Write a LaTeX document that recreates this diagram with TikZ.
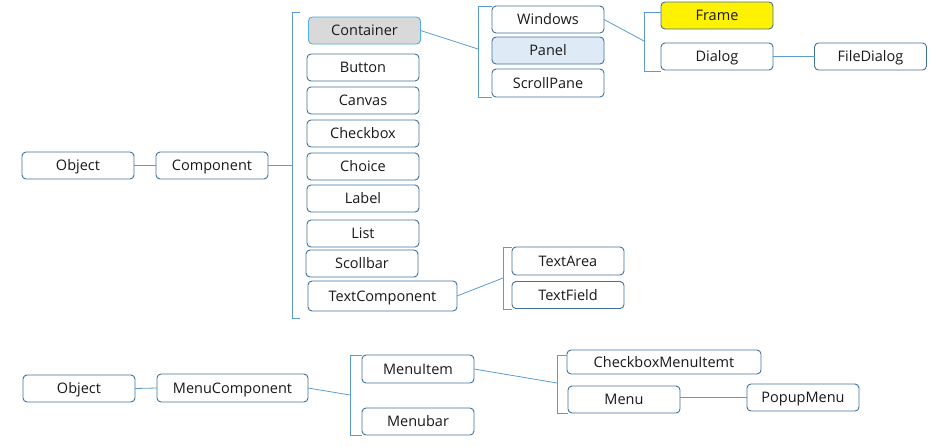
\documentclass[tikz,border=0pt]{standalone}
\usepackage{fontspec}
\setmainfont{Open Sans}
\definecolor{boxc}{HTML}{41719C}
\definecolor{linec}{HTML}{5B9BD5}
\definecolor{contc}{HTML}{4DB0E0}
\definecolor{grayf}{HTML}{D9D9D9}
\definecolor{panelf}{HTML}{DEEAF6}
\begin{document}
\begin{tikzpicture}[x=1pt,y=-1pt,
  box/.style={draw=boxc, line width=0.9pt, rounded corners=4pt, fill=white,
    inner sep=0pt, outer sep=0pt, minimum height=27pt, minimum width=112pt,
    text height=11.5pt, text depth=1.5pt,
    font=\fontsize{14.5}{16}\selectfont, text=black!90},
  conn/.style={draw=linec, line width=0.8pt}]
\useasboundingbox (0,0) rectangle (943,447);
% top tree
\node[box] (obj1) at (78,165.5) {Object};
\node[box] (comp) at (212,165.5) {Component};
\node[box, fill=grayf, draw=contc] (cont) at (364.5,30.5) {Container};
\node[box] (button) at (363,67.5) {Button};
\node[box] (canvas) at (363,100.5) {Canvas};
\node[box] (checkbox) at (363,133.5) {Checkbox};
\node[box] (choice) at (363,166.5) {Choice};
\node[box] (label) at (363,198.5) {Label};
\node[box] (list) at (363,233.5) {List};
\node[box] (scroll) at (362,263.5) {Scollbar};
\node[box, minimum width=149pt, minimum height=30pt] (textc) at (382.5,296) {TextComponent};
\node[box] (win) at (548,19.5) {Windows};
\node[box, fill=panelf] (panel) at (548,50.5) {Panel};
\node[box, minimum height=28pt] (spane) at (548,83) {ScrollPane};
\node[box, fill=yellow] (frame) at (717,15.5) {Frame};
\node[box] (dialog) at (717,56.5) {Dialog};
\node[box] (fdialog) at (870.5,56.5) {FileDialog};
\node[box, minimum height=28pt] (tarea) at (568,261) {TextArea};
\node[box] (tfield) at (568,295) {TextField};
% bottom tree
\node[box] (obj2) at (79,388.5) {Object};
\node[box, minimum width=151pt, minimum height=28pt] (mcomp) at (232.5,388) {MenuComponent};
\node[box, minimum height=28pt] (mitem) at (418,369) {MenuItem};
\node[box] (mbar) at (418,421.5) {Menubar};
\node[box, minimum width=194pt, minimum height=24pt] (cbmi) at (664,362) {CheckboxMenuItemt};
\node[box] (menu) at (624,399.5) {Menu};
\node[box] (popup) at (803,397.5) {PopupMenu};
% bracket coordinates
\coordinate (b1) at (292,165.5);
\coordinate (b2) at (478,49);
\coordinate (b3) at (644,41);
\coordinate (b4) at (503,278);
\coordinate (b5) at (350,395);
\coordinate (b6) at (557,383);
% brackets
\draw[conn] (300,12) -- (292,12) -- (292,318) -- (300,318);
\draw[conn] (492,6) -- (478,6) -- (478,97) -- (492,97);
\draw[conn] (661,12) -- (644,12) -- (644,71) -- (661,71);
\draw[conn] (512,247) -- (503,247) -- (503,309) -- (512,309);
\draw[conn] (362,355) -- (350,355) -- (350,435) -- (362,435);
\draw[conn] (567,355) -- (557,355) -- (557,413) -- (568,413);
% connectors
\draw[conn] (obj1.east) -- (comp.west);
\draw[conn] (comp.east) -- (b1);
\draw[conn] (cont.east) -- (b2);
\draw[conn] (win.east) -- (b3);
\draw[conn] (dialog.east) -- (fdialog.west);
\draw[conn] (textc.east) -- (b4);
\draw[conn] (obj2.east) -- (mcomp.west);
\draw[conn] (mcomp.east) -- (b5);
\draw[conn] (mitem.east) -- (b6);
\draw[conn] ([yshift=2pt]menu.east) -- ([yshift=2pt]popup.west |- menu.east);
\end{tikzpicture}
\end{document}
